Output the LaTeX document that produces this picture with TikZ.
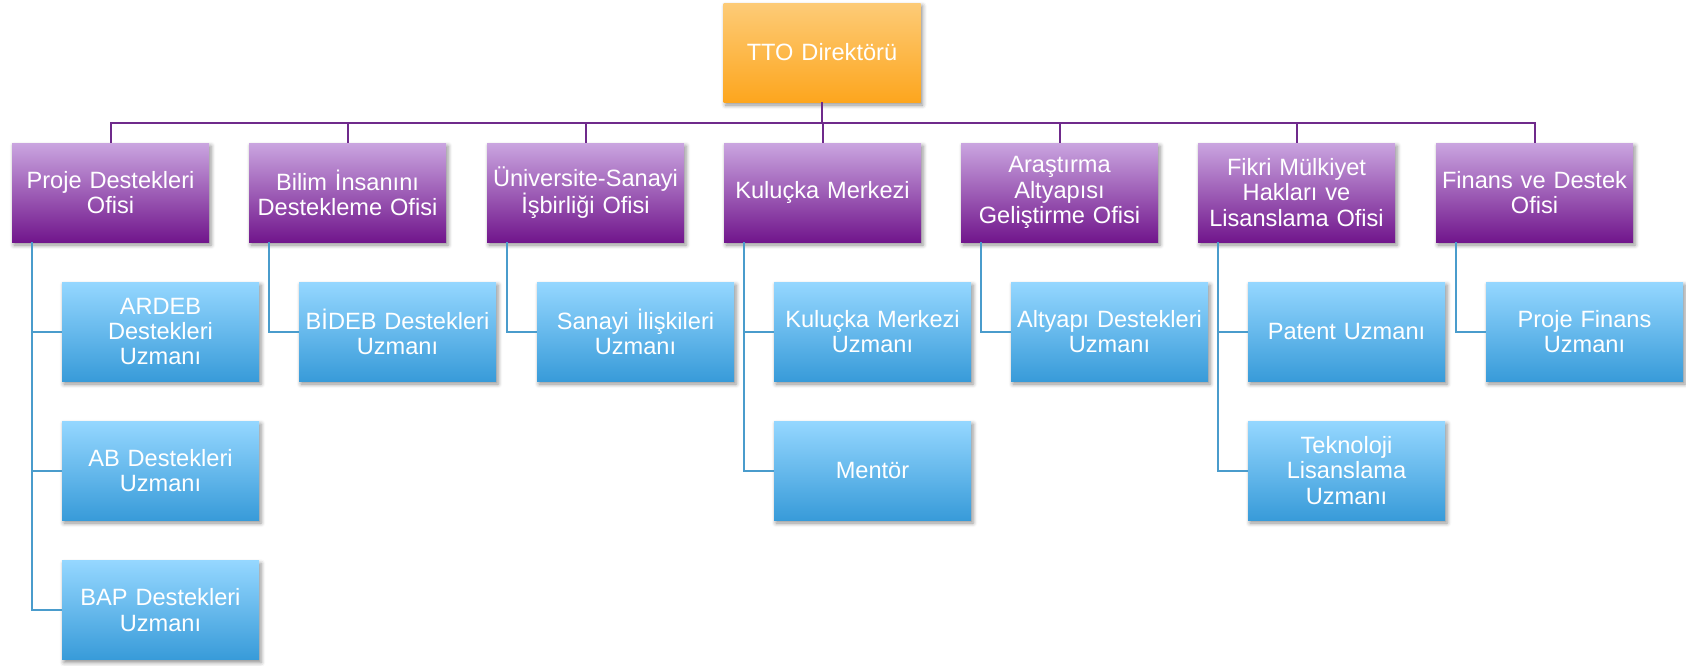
\documentclass[tikz,border=0pt]{standalone}
\usepackage{fontspec}
\setmainfont{Liberation Sans}
\usetikzlibrary{shadows.blur}

\definecolor{orangetop}{HTML}{FDCB77}
\definecolor{orangebot}{HTML}{FDA61E}
\definecolor{purpletop}{HTML}{CAA5E0}
\definecolor{purplebot}{HTML}{71168C}
\definecolor{bluetop}{HTML}{95D7FF}
\definecolor{bluebot}{HTML}{389BD9}
\definecolor{purpleline}{HTML}{6F2A8B}
\definecolor{blueline}{HTML}{4A9CCC}

\tikzset{
  box/.style = {
    rectangle,
    minimum width = 98.5pt,
    minimum height = 49.5pt,
    inner sep = 0pt,
    text width = 96pt,
    align = center,
    text = white,
    font = \fontsize{11.8}{12.6}\selectfont,
    blur shadow = {shadow xshift = 1pt, shadow yshift = -1.5pt, shadow opacity = 45}
  },
  head/.style   = {box, top color = orangetop, bottom color = orangebot},
  office/.style = {box, top color = purpletop, bottom color = purplebot},
  expert/.style = {box, top color = bluetop,   bottom color = bluebot},
  topline/.style = {draw = purpleline, line width = 1pt},
  subline/.style = {draw = blueline,   line width = 1pt}
}

\begin{document}
\begin{tikzpicture}[x = 0.5pt, y = -0.5pt]
  \useasboundingbox (0,0) rectangle (1686,665);

  % The head of the office
  \node[head] (tto) at (822,52.5) {TTO Direktörü};
  \coordinate (bar) at (822,123);

  % The seven offices
  \foreach \i/\x/\txt in {
    1/12/{Proje Destekleri\\Ofisi},
    2/249/{Bilim İnsanını\\Destekleme Ofisi},
    3/487/{Üniversite-Sanayi\\İşbirliği Ofisi},
    4/724/{Kuluçka Merkezi},
    5/961/{Araştırma\\Altyapısı\\Geliştirme Ofisi},
    6/1198/{Fikri Mülkiyet\\Hakları ve\\Lisanslama Ofisi},
    7/1436/{Finans ve Destek\\Ofisi}}
    \node[office] (o\i) at (\x+98.5,192.5) {\txt};

  % The experts below them
  \node[expert] (e1a) at (160.5,331.5)  {ARDEB\\Destekleri\\Uzmanı};
  \node[expert] (e1b) at (160.5,470.5)  {AB Destekleri\\Uzmanı};
  \node[expert] (e1c) at (160.5,610)    {BAP Destekleri\\Uzmanı};
  \node[expert] (e2)  at (397.5,331.5)  {BİDEB Destekleri\\Uzmanı};
  \node[expert] (e3)  at (635.5,331.5)  {Sanayi İlişkileri\\Uzmanı};
  \node[expert] (e4a) at (872.5,331.5)  {Kuluçka Merkezi\\Uzmanı};
  \node[expert] (e4b) at (872.5,470.5)  {Mentör};
  \node[expert] (e5)  at (1109.5,331.5) {Altyapı Destekleri\\Uzmanı};
  \node[expert] (e6a) at (1346.5,331.5) {Patent Uzmanı};
  \node[expert] (e6b) at (1346.5,470.5) {Teknoloji\\Lisanslama\\Uzmanı};
  \node[expert] (e7)  at (1584.5,331.5) {Proje Finans\\Uzmanı};

  % Head to offices
  \draw[topline] (tto.south) -- (bar);
  \foreach \i in {1,...,7}
    \draw[topline] (o\i.north) |- (bar);

  % Offices to experts
  \foreach \o/\e in {1/e1a, 1/e1b, 1/e1c, 2/e2, 3/e3, 4/e4a, 4/e4b,
                     5/e5, 6/e6a, 6/e6b, 7/e7}
    \draw[subline] ([xshift=10pt]o\o.south west) |- (\e.west);
\end{tikzpicture}
\end{document}
